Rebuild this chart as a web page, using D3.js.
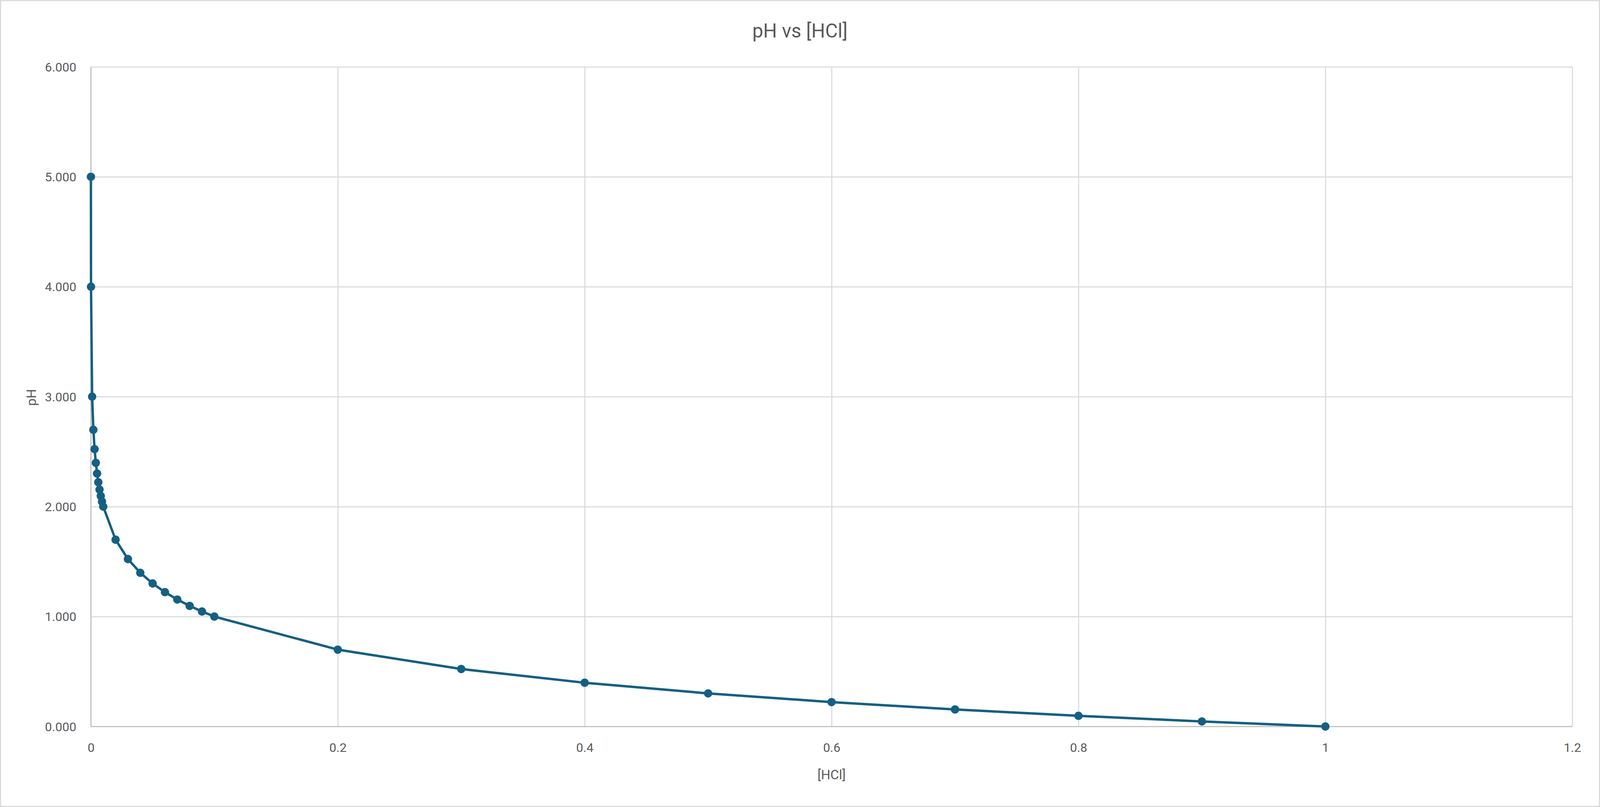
<!DOCTYPE html>
<html>
<head>
<meta charset="utf-8">
<script src="https://cdn.jsdelivr.net/npm/d3@7"></script>
<style>
  html, body { margin: 0; padding: 0; background: #fff; overflow: hidden; width: 100%; height: 100%; }
  svg { display: block; }
  text { font-family: Roboto, "Liberation Sans", sans-serif; fill: #595959; }
</style>
</head>
<body>
<svg id="chart"></svg>
<script>
// ---- data ----
const concHCl = [0.00001, 0.0001, 0.001, 0.002, 0.003, 0.004, 0.005, 0.006, 0.007, 0.008, 0.009, 0.01,
                 0.02, 0.03, 0.04, 0.05, 0.06, 0.07, 0.08, 0.09, 0.1,
                 0.2, 0.3, 0.4, 0.5, 0.6, 0.7, 0.8, 0.9, 1.0];
const pHValues = [5.000, 4.000, 3.000, 2.699, 2.523, 2.398, 2.301, 2.222, 2.155, 2.097, 2.046, 2.000,
                  1.699, 1.523, 1.398, 1.301, 1.222, 1.155, 1.097, 1.046, 1.000,
                  0.699, 0.523, 0.398, 0.301, 0.222, 0.155, 0.097, 0.046, 0.000];
const xTicks = [0, 0.2, 0.4, 0.6, 0.8, 1, 1.2];
const yTicks = [0, 1, 2, 3, 4, 5, 6];
const chartTitle = "pH vs [HCl]";
const xTitle = "[HCl]";
const yTitle = "pH";

// ---- layout (reference frame 4612 x 2065, mapped to the actual viewport) ----
const REF_W = 4612, REF_H = 2065;
const W = window.innerWidth || REF_W;
const H = window.innerHeight || REF_H;
const sx = W / REF_W, sy = H / REF_H;
const fs = Math.min(sx, sy);
const plot = { left: 262 * sx, right: 4532 * sx, top: 171 * sy, bottom: 1859 * sy };
const color = "#156082";
const font = "Roboto, 'Liberation Sans', sans-serif";

const svg = d3.select("#chart").attr("width", W).attr("height", H);

// outer border
svg.append("rect")
  .attr("x", 1.5 * sx).attr("y", 1.5 * sy)
  .attr("width", W - 3 * sx).attr("height", H - 3 * sy)
  .attr("fill", "#fff").attr("stroke", "#d9d9d9").attr("stroke-width", 3 * fs);

const x = d3.scaleLinear().domain([0, 1.2]).range([plot.left, plot.right]);
const y = d3.scaleLinear().domain([0, 6]).range([plot.bottom, plot.top]);

// gridlines
const gx = svg.append("g")
  .attr("transform", `translate(0,${plot.bottom})`)
  .call(d3.axisBottom(x).tickValues(xTicks).tickSize(-(plot.bottom - plot.top)).tickFormat(""));
gx.select(".domain").remove();
gx.selectAll("line").attr("stroke", "#d9d9d9").attr("stroke-width", 3 * fs);

const gy = svg.append("g")
  .attr("transform", `translate(${plot.left},0)`)
  .call(d3.axisLeft(y).tickValues(yTicks).tickSize(-(plot.right - plot.left)).tickFormat(""));
gy.select(".domain").remove();
gy.selectAll("line").attr("stroke", "#d9d9d9").attr("stroke-width", 3 * fs);

// axis lines
svg.append("line")
  .attr("x1", x(0)).attr("x2", x(1.2)).attr("y1", y(0)).attr("y2", y(0))
  .attr("stroke", "#bfbfbf").attr("stroke-width", 3 * fs);
svg.append("line")
  .attr("x1", x(0)).attr("x2", x(0)).attr("y1", y(0)).attr("y2", y(6))
  .attr("stroke", "#bfbfbf").attr("stroke-width", 3 * fs);

// tick labels via axes
const xl = svg.append("g")
  .attr("transform", `translate(0,${plot.bottom})`)
  .call(d3.axisBottom(x).tickValues(xTicks).tickSize(0).tickPadding(0).tickFormat(d3.format("")));
xl.select(".domain").remove();
xl.selectAll("text")
  .attr("y", 54 * sy).attr("dy", "0.35em")
  .style("font-size", (36 * fs) + "px").attr("fill", "#595959")
  .style("font-family", font);

const yl = svg.append("g")
  .attr("transform", `translate(${plot.left},0)`)
  .call(d3.axisLeft(y).tickValues(yTicks).tickSize(0).tickPadding(0).tickFormat(d3.format(".3f")));
yl.select(".domain").remove();
yl.selectAll("text")
  .attr("x", -42 * sx).attr("dy", "0.35em")
  .style("font-size", (36 * fs) + "px").attr("fill", "#595959")
  .style("font-family", font);

// data
const pts = concHCl.map((c, i) => ({ c, p: pHValues[i] }));
const line = d3.line().x(d => x(d.c)).y(d => y(d.p));
svg.append("path")
  .datum(pts)
  .attr("d", line)
  .attr("fill", "none")
  .attr("stroke", color)
  .attr("stroke-width", 7 * fs)
  .attr("stroke-linejoin", "round");

svg.append("g").selectAll("circle")
  .data(pts)
  .join("circle")
  .attr("cx", d => x(d.c))
  .attr("cy", d => y(d.p))
  .attr("r", 12 * fs)
  .attr("fill", color);

// titles
svg.append("text")
  .attr("x", 2306 * sx).attr("y", 79 * sy)
  .attr("text-anchor", "middle").attr("dy", "0.35em")
  .style("font-size", (56 * fs) + "px")
  .text(chartTitle);

svg.append("text")
  .attr("x", 2397 * sx).attr("y", 1982 * sy)
  .attr("text-anchor", "middle").attr("dy", "0.35em")
  .style("font-size", (38 * fs) + "px")
  .text(xTitle);

svg.append("text")
  .attr("transform", `translate(${90 * sx},${(plot.top + plot.bottom) / 2 + 2 * sy}) rotate(-90)`)
  .attr("text-anchor", "middle").attr("dy", "0.35em")
  .style("font-size", (38 * fs) + "px")
  .text(yTitle);
</script>
</body>
</html>
